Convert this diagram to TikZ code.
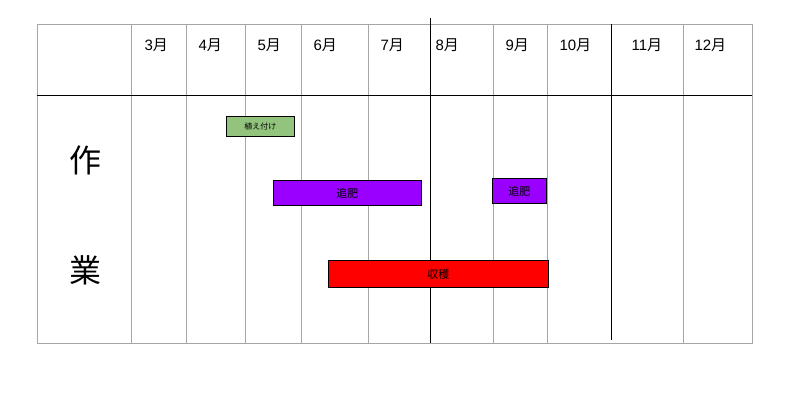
\documentclass[tikz,border=0pt]{standalone}
\usepackage{fontspec}
\setmainfont{Noto Sans CJK JP}
\newfontfamily\arialfont{Liberation Sans}
\usepackage{tikz}
\usetikzlibrary{positioning}

\begin{document}
\begin{tikzpicture}[x=1pt, y=-1pt,
	grid/.style={draw=gray!70, line width=0.8pt},
	bar/.style={draw=black, line width=0.9pt, inner sep=0pt, anchor=north west},
	month/.style={anchor=west, font=\fontsize{15}{17}\selectfont},
	side/.style={font=\fontsize{32}{34}\selectfont}]
	\useasboundingbox (0,0) rectangle (811,396);
	% table frame
	\draw[grid] (37,24) rectangle (752,343);
	\foreach \x in {131,186,245,301,368,493,547,683}
		\draw[grid] (\x,24) -- (\x,343);
	\draw[black, line width=0.9pt] (37,95) -- (752,95);
	\draw[black, line width=0.9pt] (430,18) -- (430,343);
	\draw[black, line width=0.9pt] (611,24) -- (611,340);
	
	% months
	\foreach \x/\m in {141/3, 195/4, 254/5, 310/6, 377/7, 432/8, 502/9, 556/10, 628/11, 691/12}
		\node[month] (m\m) at (\x,45) {{\arialfont\m}月};
	
	\node[side] (saku) at (85,160) {作};
	\node[side] (gyo) at (85,270) {業};
	
	% tasks
	\node[bar, fill={rgb,255:red,147;green,196;blue,125}, minimum width=68pt, minimum height=20pt, font=\fontsize{8}{9}\selectfont] (ue) at (226,116) {植え付け};
	\node[bar, fill={rgb,255:red,153;green,0;blue,255}, minimum width=148pt, minimum height=25pt, font=\fontsize{11}{12}\selectfont] (tsui1) at (273,180) {追肥};
	\node[bar, fill={rgb,255:red,153;green,0;blue,255}, minimum width=54pt, minimum height=25pt, font=\fontsize{11}{12}\selectfont] (tsui2) at (492,178) {追肥};
	\node[bar, fill=red, minimum width=220pt, minimum height=27pt, font=\fontsize{11}{12}\selectfont] (shu) at (328,260) {収穫};
\end{tikzpicture}
\end{document}
